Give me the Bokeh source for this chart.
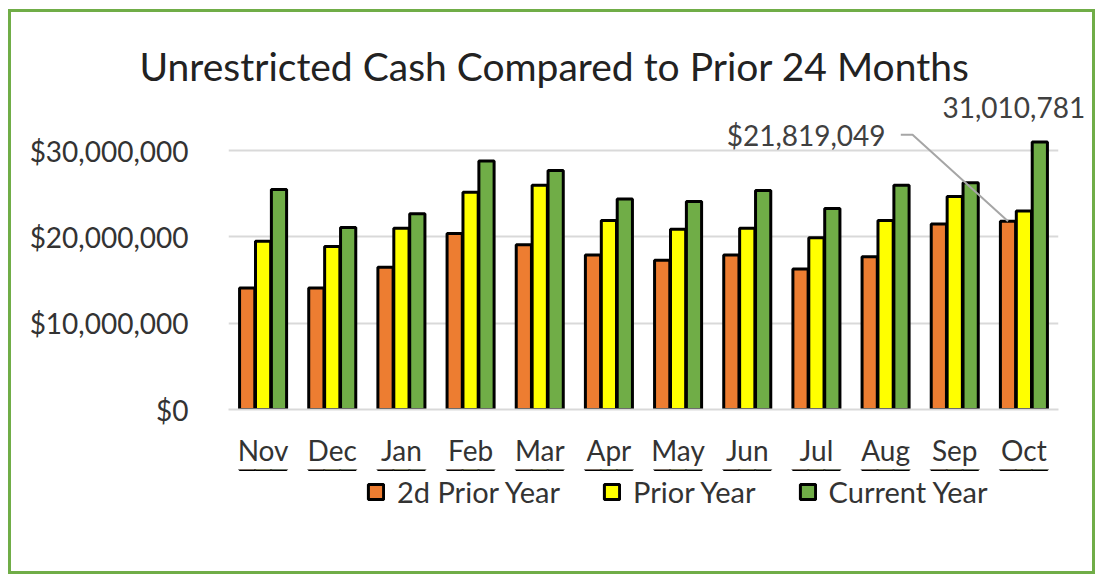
from bokeh.plotting import figure
from bokeh.layouts import column
from bokeh.models import (FactorRange, Range1d, FixedTicker, NumeralTickFormatter,
                          Legend, LegendItem, Label, Title)
from bokeh.transform import dodge
from bokeh.embed import file_html
from bokeh.resources import INLINE

months = ["Nov", "Dec", "Jan", "Feb", "Mar", "Apr", "May", "Jun", "Jul", "Aug", "Sep", "Oct"]
second_prior_year = [14100000, 14100000, 16500000, 20400000, 19100000, 17900000,
                     17300000, 17900000, 16300000, 17700000, 21500000, 21819049]
prior_year = [19500000, 18900000, 21000000, 25200000, 26000000, 21900000,
              20900000, 21000000, 19900000, 21900000, 24700000, 23000000]
current_year = [25500000, 21100000, 22700000, 28800000, 27700000, 24400000,
                24100000, 25400000, 23300000, 26000000, 26300000, 31010781]
series_names = ["2d Prior Year", "Prior Year", "Current Year"]
y_ticks = [0, 10000000, 20000000, 30000000]
title_text = "Unrestricted Cash Compared to Prior 24 Months"

FONT = "Lato"
TXT = "#333333"
GREEN_BORDER = "#70AD47"
colors = ["#ED7D31", "#FFFF00", "#70AD47"]

# ---------------- main chart ----------------
x_range = FactorRange(*months, range_padding=0)
p = figure(frame_width=830, frame_height=295, x_range=x_range,
           y_range=Range1d(0, 34200000), output_backend="svg", toolbar_location=None,
           min_border_left=228, min_border_right=37, min_border_top=114, min_border_bottom=60,
           title=None)
p.outline_line_color = None
p.background_fill_color = "white"
p.border_fill_color = None

src = dict(month=months, a=second_prior_year, b=prior_year, c=current_year)
offs = [-0.23, 0.0, 0.23]
for key, col, off in zip(["a", "b", "c"], colors, offs):
    p.vbar(x=dodge("month", off, range=x_range), top=key, width=0.22, source=src,
           fill_color=col, line_color="black", line_width=3)

p.xgrid.grid_line_color = None
p.ygrid.grid_line_color = "#d9d9d9"
p.ygrid.grid_line_width = 2
p.yaxis.ticker = FixedTicker(ticks=y_ticks)
p.yaxis.formatter = NumeralTickFormatter(format="$0,0")
for ax in (p.xaxis[0], p.yaxis[0]):
    ax.major_tick_line_color = None
    ax.minor_tick_line_color = None
    ax.major_label_text_font = FONT
    ax.major_label_text_font_size = "28px"
    ax.major_label_text_color = TXT
p.yaxis.axis_line_color = None
p.xaxis.axis_line_color = "#d9d9d9"
p.xaxis.axis_line_width = 2
p.yaxis.major_label_standoff = 34
p.xaxis.major_label_standoff = 17

oct_i = months.index("Oct")
oct_x = oct_i + 0.5

# value label for the current year (closest to the frame), then the chart title above it
p.add_layout(Title(text="{:,}".format(current_year[oct_i]), align="left", offset=714,
                   text_font=FONT, text_font_size="28px", text_font_style="normal",
                   text_color="#404040", standoff=-6), "above")
p.add_layout(Title(text=title_text, align="left", offset=-89,
                   text_font=FONT, text_font_size="39px", text_font_style="normal",
                   text_color="#222222", standoff=18), "above")

# Data label with leader line for the 2d prior year
p.add_layout(Label(x=oct_x - 2.0, y=31850000, text="${:,}".format(second_prior_year[oct_i]),
                   text_align="right", text_baseline="middle", text_font=FONT,
                   text_font_size="28px", text_color="#404040"))
p.line(x=[oct_x - 1.78, oct_x - 1.61, oct_x + offs[0]],
       y=[31850000, 31850000, second_prior_year[oct_i]], line_color="#a6a6a6", line_width=2)

# ---------------- legend strip (same x range, bars kept out of view) ----------------
lg = figure(width=1095, height=107, x_range=x_range, y_range=Range1d(-40000000, -35000000),
            x_axis_type=None, y_axis_type=None, output_backend="svg", toolbar_location=None,
            min_border=0, title=None)
lg.outline_line_color = None
lg.background_fill_color = None
lg.border_fill_color = None
lg.xgrid.grid_line_color = None
lg.ygrid.grid_line_color = None
swatches = [lg.vbar(x=dodge("month", off, range=x_range), top=key, width=0.22, source=src,
                    fill_color=col, line_color="black", line_width=3)
            for key, col, off in zip(["a", "b", "c"], colors, offs)]
legend = Legend(items=[LegendItem(label=n, renderers=[r]) for n, r in zip(series_names, swatches)],
                orientation="horizontal", location=(138, 67), glyph_width=19, glyph_height=19,
                label_standoff=12, spacing=42, padding=0, margin=0,
                border_line_color=None, background_fill_alpha=0,
                label_text_font=FONT, label_text_font_size="29px", label_text_color=TXT)
lg.add_layout(legend, "center")

layout = column(p, lg, spacing=0, styles={
    "background-color": "white",
    "box-shadow": ("inset 8px 0 0 0 #fff, inset 0 9px 0 0 #fff, inset 0 -2px 0 0 #fff, "
                   f"inset 11px 0 0 0 {GREEN_BORDER}, inset 0 12px 0 0 {GREEN_BORDER}, "
                   f"inset -3px 0 0 0 {GREEN_BORDER}, inset 0 -5px 0 0 {GREEN_BORDER}"),
})

open("out.html", "w").write(file_html(layout, INLINE))
